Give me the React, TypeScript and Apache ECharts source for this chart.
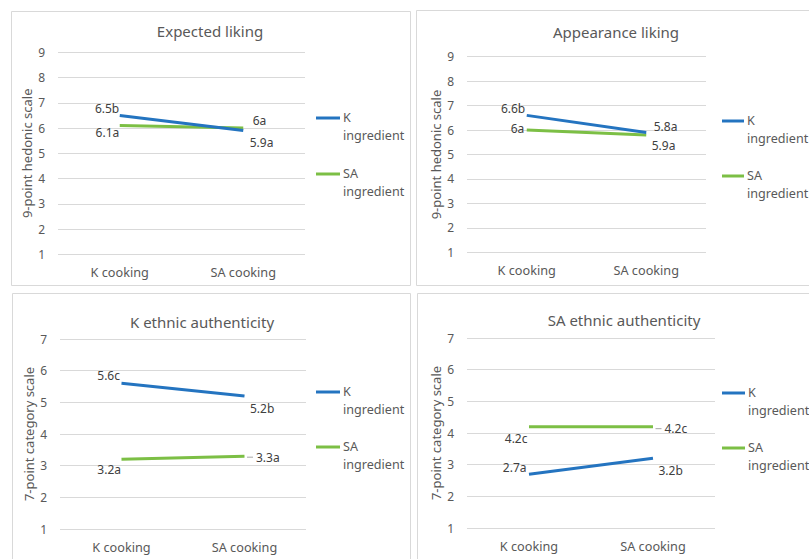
import React, { useEffect, useRef } from "react";
import * as echarts from "echarts";

const categories = ["K cooking", "SA cooking"];
const seriesNames = ["K ingredient", "SA ingredient"];
const panelTitles = ["Expected liking", "Appearance liking", "K ethnic authenticity", "SA ethnic authenticity"];
const yAxisNames = ["9-point hedonic scale", "9-point hedonic scale", "7-point category scale", "7-point category scale"];
const yMax = [9, 9, 7, 7];

const expectedK = [6.5, 5.9];
const expectedSA = [6.1, 6.0];
const appearanceK = [6.6, 5.9];
const appearanceSA = [6.0, 5.8];
const kAuthK = [5.6, 5.2];
const kAuthSA = [3.2, 3.3];
const saAuthK = [2.7, 3.2];
const saAuthSA = [4.2, 4.2];

const expectedKLabels = ["6.5b", "5.9a"];
const expectedSALabels = ["6.1a", "6a"];
const appearanceKLabels = ["6.6b", "5.9a"];
const appearanceSALabels = ["6a", "5.8a"];
const kAuthKLabels = ["5.6c", "5.2b"];
const kAuthSALabels = ["3.2a", "3.3a"];
const saAuthKLabels = ["2.7a", "3.2b"];
const saAuthSALabels = ["4.2c", "4.2c"];

const BLUE = "#2474c0";
const GREEN = "#7cbf45";
const GRID_COLOR = "#d9d9d9";
const TEXT = "#595959";
const LABEL = "#404040";
const FONT = "Noto Sans";

// layout (pixels)
const grids = [
  { left: 58, top: 52.3, width: 247, height: 202 },
  { left: 467, top: 56.7, width: 239, height: 195.6 },
  { left: 60, top: 339, width: 246, height: 190 },
  { left: 467, top: 338, width: 248, height: 190 },
];
const panels = [
  { x: 11, y: 11, w: 399, h: 274 },
  { x: 416, y: 10, w: 420, h: 275 },
  { x: 12, y: 293, w: 398, h: 300 },
  { x: 417, y: 293, w: 420, h: 300 },
];
const titlePos = [
  [210, 31],
  [616, 32],
  [202, 322],
  [624, 320],
];
const legendPos = [
  { x1: 316, x2: 340, yK: 118, ySA: 174 },
  { x1: 722, x2: 744, yK: 121, ySA: 176 },
  { x1: 316, x2: 340, yK: 392, ySA: 447 },
  { x1: 722, x2: 745, yK: 393, ySA: 448 },
];

type LP = { side: "left" | "right"; dist: number; dy: number; leader?: boolean };
const labelPlacement: LP[][][] = [
  [
    [{ side: "left", dist: 0, dy: -7 }, { side: "right", dist: 6, dy: 12 }],
    [{ side: "left", dist: 0, dy: 7 }, { side: "right", dist: 9, dy: -8 }],
  ],
  [
    [{ side: "left", dist: 1, dy: -7 }, { side: "right", dist: 5, dy: 13 }],
    [{ side: "left", dist: 2, dy: -2 }, { side: "right", dist: 7, dy: -8 }],
  ],
  [
    [{ side: "left", dist: 1, dy: -8 }, { side: "right", dist: 5, dy: 12 }],
    [{ side: "left", dist: 0, dy: 10 }, { side: "right", dist: 2, dy: 1, leader: true }],
  ],
  [
    [{ side: "left", dist: 2, dy: -7 }, { side: "right", dist: 5, dy: 12 }],
    [{ side: "left", dist: 1, dy: 12 }, { side: "right", dist: 2, dy: 2, leader: true }],
  ],
];

const panelData = [
  [expectedK, expectedSA],
  [appearanceK, appearanceSA],
  [kAuthK, kAuthSA],
  [saAuthK, saAuthSA],
];
const panelLabels = [
  [expectedKLabels, expectedSALabels],
  [appearanceKLabels, appearanceSALabels],
  [kAuthKLabels, kAuthSALabels],
  [saAuthKLabels, saAuthSALabels],
];

export default function App() {
  const ref = useRef<HTMLDivElement>(null);
  useEffect(() => {
    if (!ref.current) return;
    const chart = echarts.init(ref.current, undefined, { renderer: "svg" });

    const series: any[] = [];
    panelData.forEach((pair, p) => {
      pair.forEach((vals, s) => {
        series.push({
          type: "line",
          name: seriesNames[s],
          xAxisIndex: p,
          yAxisIndex: p,
          symbol: "circle",
          symbolSize: 1,
          itemStyle: { color: "rgba(0,0,0,0)" },
          lineStyle: { color: s === 0 ? BLUE : GREEN, width: 3 },
          z: s === 0 ? 3 : 2,
          data: vals.map((v, i) => {
            const lp = labelPlacement[p][s][i];
            const txt = panelLabels[p][s][i];
            return {
              value: v,
              label: {
                show: true,
                position: lp.side,
                distance: lp.dist,
                offset: [0, lp.dy],
                color: LABEL,
                fontFamily: FONT,
                fontSize: 12,
                formatter: lp.leader ? "{d|}{t|" + txt + "}" : txt,
                rich: {
                  d: { width: 6, height: 1, backgroundColor: "#a6a6a6" },
                  t: { color: LABEL, fontFamily: FONT, fontSize: 12, padding: [0, 0, 0, 3] },
                },
              },
            };
          }),
        });
      });
    });

    const graphic: any[] = [];
    panels.forEach((pn) => {
      graphic.push({
        type: "rect",
        shape: { x: pn.x + 0.5, y: pn.y + 0.5, width: pn.w, height: pn.h },
        style: { fill: "#fff", stroke: GRID_COLOR, lineWidth: 1 },
        z: -10,
        silent: true,
      });
    });
    titlePos.forEach((tp, p) => {
      graphic.push({
        type: "text",
        x: tp[0],
        y: tp[1],
        style: {
          text: panelTitles[p],
          align: "center",
          verticalAlign: "middle",
          fill: TEXT,
          font: `15px "${FONT}"`,
        },
      });
    });
    legendPos.forEach((lg) => {
      [lg.yK, lg.ySA].forEach((yy, s) => {
        graphic.push({
          type: "line",
          shape: { x1: lg.x1, y1: yy, x2: lg.x2, y2: yy },
          style: { stroke: s === 0 ? BLUE : GREEN, lineWidth: 3 },
        });
        const parts = seriesNames[s].split(" ");
        graphic.push({
          type: "text",
          x: lg.x2 + 3,
          y: yy - 9.5,
          style: {
            text: parts[0] + "\n" + parts[1],
            align: "left",
            verticalAlign: "top",
            lineHeight: 18,
            fill: TEXT,
            font: `12.6px "${FONT}"`,
          },
        });
      });
    });

    chart.setOption({
      animation: false,
      backgroundColor: "#fff",
      grid: grids.map((g) => ({ ...g, containLabel: false })),
      xAxis: grids.map((_, p) => ({
        type: "category",
        gridIndex: p,
        data: categories,
        boundaryGap: true,
        axisLine: { show: false },
        axisTick: { show: false },
        axisLabel: { color: TEXT, fontFamily: FONT, fontSize: 12.7, margin: 11 },
      })),
      yAxis: grids.map((_, p) => ({
        type: "value",
        gridIndex: p,
        min: 1,
        max: yMax[p],
        interval: 1,
        name: yAxisNames[p],
        nameLocation: "middle",
        nameGap: 25,
        nameTextStyle: { color: TEXT, fontFamily: FONT, fontSize: 13 },
        axisLine: { show: false },
        axisTick: { show: false },
        axisLabel: { color: TEXT, fontFamily: FONT, fontSize: 12, margin: 13 },
        splitLine: { lineStyle: { color: GRID_COLOR, width: 1 } },
      })),
      series,
      graphic,
    });
    return () => chart.dispose();
  }, []);
  return (
    <div
      ref={ref}
      style={{ position: "fixed", left: 0, top: 0, width: 809, height: 559, background: "#fff" }}
    />
  );
}
